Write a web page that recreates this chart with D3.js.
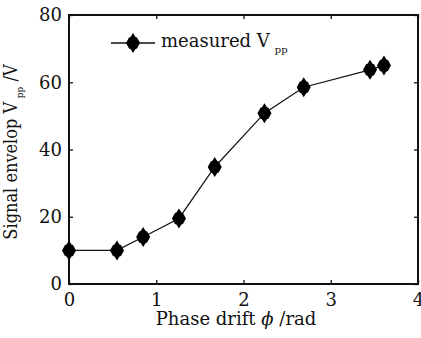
<!DOCTYPE html>
<html>
<head>
<meta charset="utf-8">
<script src="https://cdn.jsdelivr.net/npm/d3@7"></script>
<style>
  body { margin: 0; background: #fff; }
  text { font-family: "DejaVu Serif", "Liberation Serif", serif; fill: #111; }
</style>
</head>
<body>
<svg id="chart" width="421" height="338"></svg>
<script>
// data
var phase   = [0, 0.55, 0.85, 1.26, 1.67, 2.24, 2.69, 3.45, 3.61];
var vpp     = [10, 10, 14, 19.5, 34.8, 50.8, 58.5, 63.7, 65];
var xTicks  = [0, 1, 2, 3, 4];
var yTicks  = [0, 20, 40, 60, 80];

var svg = d3.select('#chart'),
    margin = {top: 15, right: 3, bottom: 54, left: 69};
var width  = 421 - margin.left - margin.right;
var height = 338 - margin.top - margin.bottom;
var canvas = svg.append("g").attr("transform", "translate(" + margin.left + "," + margin.top + ")");

var x = d3.scaleLinear().domain([0, 4]).range([0, width]);
var y = d3.scaleLinear().domain([0, 80]).range([height, 0]);

var data = phase.map(function(p, i) { return {x: p, y: vpp[i]}; });

// axes, ticks pointing inward, mirrored on top/right
function styleAxis(g) {
  g.select(".domain").remove();
  g.selectAll(".tick line").attr("stroke", "#111").attr("stroke-width", 1.3);
}

canvas.append("g")
    .attr("transform", "translate(0," + height + ")")
    .call(d3.axisBottom(x).tickValues(xTicks).tickSize(-4).tickPadding(9).tickFormat(d3.format("d")))
    .call(styleAxis)
    .selectAll("text").attr("font-size", 18).attr("font-family", "DejaVu Serif");

canvas.append("g")
    .call(d3.axisTop(x).tickValues(xTicks).tickSize(-4).tickFormat(""))
    .call(styleAxis);

canvas.append("g")
    .call(d3.axisLeft(y).tickValues(yTicks).tickSize(-4).tickPadding(7).tickFormat(d3.format("d")))
    .call(styleAxis)
    .selectAll("text").attr("font-size", 18).attr("font-family", "DejaVu Serif");

canvas.append("g")
    .attr("transform", "translate(" + width + ",0)")
    .call(d3.axisRight(y).tickValues(yTicks).tickSize(-4).tickFormat(""))
    .call(styleAxis);

canvas.append("rect")
    .attr("width", width).attr("height", height)
    .attr("fill", "none").attr("stroke", "#111").attr("stroke-width", 2);

// data line
var line = d3.line().x(function(d) { return x(d.x); }).y(function(d) { return y(d.y); });

canvas.append("path")
    .datum(data)
    .attr("fill", "none")
    .attr("stroke", "#111")
    .attr("stroke-width", 1.2)
    .attr("d", line);

// slightly stepped diamond like the original marker
var diamond = "M0,-10L2.5,-6L4,-5.5L7,0L4,5.5L2.5,6L0,10L-2.5,6L-4,5.5L-7,0L-4,-5.5L-2.5,-6Z";

canvas.selectAll(".dot")
    .data(data)
  .enter().append("path")
    .attr("class", "dot")
    .attr("d", diamond)
    .attr("transform", function(d) { return "translate(" + x(d.x) + "," + y(d.y) + ")"; })
    .attr("fill", "#000");

// legend
var legend = svg.append("g").attr("transform", "translate(111,43)");
legend.append("line").attr("x1", 0).attr("x2", 44).attr("y1", 0).attr("y2", 0)
    .attr("stroke", "#111").attr("stroke-width", 1.3);
legend.append("path").attr("d", diamond).attr("transform", "translate(22,0)").attr("fill", "#000");
var lt = legend.append("text").attr("x", 50).attr("y", 4).attr("font-size", 18);
lt.append("tspan").text("measured V");
lt.append("tspan").attr("font-size", 10).attr("dx", 5).attr("dy", 6).text("pp");

// axis titles
var xl = svg.append("text")
    .attr("x", 236).attr("y", 325)
    .attr("text-anchor", "middle").attr("font-size", 18);
xl.append("tspan").text("Phase drift ");
xl.append("tspan").attr("font-style", "italic").text("\u03d5");
xl.append("tspan").text(" /rad");

var yl = svg.append("text")
    .attr("transform", "translate(17,152) rotate(-90) scale(0.9,1)")
    .attr("text-anchor", "middle").attr("font-size", 18);
yl.append("tspan").text("Signal envelop V");
yl.append("tspan").attr("font-size", 10).attr("dx", 4).attr("dy", 6).text("pp");
yl.append("tspan").attr("dy", -6).text(" /V");
</script>
</body>
</html>
